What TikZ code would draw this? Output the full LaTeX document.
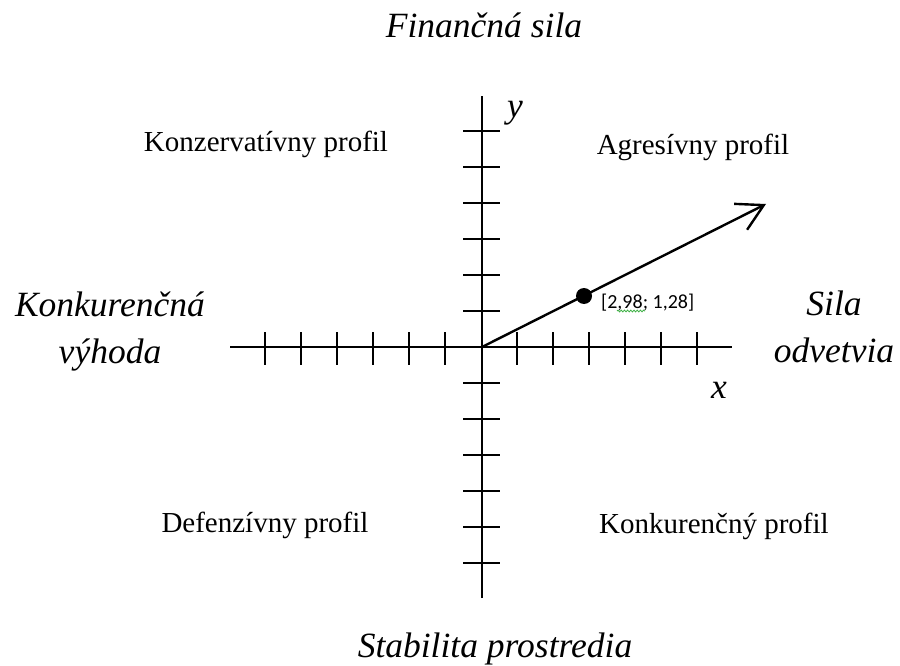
\documentclass[tikz,border=0pt]{standalone}
\usepackage{fontspec}
\setmainfont{Liberation Serif}
\newfontfamily\labelfont{Carlito}
\usepackage{xcolor}
\usepackage{tikz}
\usetikzlibrary{positioning,arrows.meta,decorations.pathmorphing}
\definecolor{AxisBlack}{HTML}{000000}
\definecolor{SpellGreen}{HTML}{3CB043}

\begin{document}
\begin{tikzpicture}[
      x=1pt, y=-1pt,
      axisline/.style = {draw=AxisBlack, line width=2.4pt},
      tickmark/.style = {draw=AxisBlack, line width=2.2pt},
      profil/.style = {anchor=base, inner sep=0pt,
        font=\fontsize{29}{34}\selectfont},
      sidetitle/.style = {anchor=base, inner sep=0pt, align=center,
        font=\fontsize{35.5}{46.5}\selectfont\itshape},
      vector/.style = {line width=2.4pt, draw=AxisBlack,
        -{Straight Barb[length=26pt, width=29pt, line width=2.4pt]}}
    ]
    \useasboundingbox (0,0) rectangle (900,666);
    % axes
    \coordinate (O) at (482,347);
    \coordinate (xmin) at (230,347);
    \coordinate (xmax) at (732,347);
    \coordinate (ymin) at (482,598);
    \coordinate (ymax) at (482,96);
    \draw [axisline] (xmin) -- (xmax);
    \draw [axisline] (ymin) -- (ymax);
    \foreach \k in {1,...,6} {
      \draw [tickmark] (481-36*\k,332) -- (481-36*\k,365);
      \draw [tickmark] (481+36*\k,332) -- (481+36*\k,365);
      \draw [tickmark] (463,347-36*\k) -- (500,347-36*\k);
      \draw [tickmark] (463,347+36*\k) -- (500,347+36*\k);
    }
    \node (ylab) [sidetitle, anchor=base west] at (507,118) {y};
    \node (xlab) [sidetitle, anchor=base west] at (711,398) {x};
    % vector and point
    \coordinate (tip) at (766,204);
    \draw [vector] (O) -- (tip);
    \node (pt) [circle, fill=AxisBlack, inner sep=0pt, minimum size=16pt]
      at (584,296) {};
    \node (ptlabel) [anchor=base west, inner sep=0pt,
      font=\labelfont\fontsize{20}{24}\selectfont] at (601,308) {[2,98; 1,28]};
    \draw [SpellGreen, line width=0.8pt, decorate,
      decoration={snake, amplitude=0.9pt, segment length=3.2pt}]
      (617,311) -- (645,311);
    % quadrant profiles
    \node (konz) [profil] at (266,152) {Konzervatívny profil};
    \node (agr) [profil] at (693,155) {Agresívny profil};
    \node (def) [profil] at (265,532) {Defenzívny profil};
    \node (konk) [profil] at (714,533) {Konkurenčný profil};
    % axis titles
    \node (fin) [sidetitle] at (484,38) {Finančná sila};
    \node (kv) [sidetitle] at (110,363) {Konkurenčná\\výhoda};
    \node (so) [sidetitle] at (834,362) {Sila\\odvetvia};
    \node (stab) [sidetitle] at (495,657) {Stabilita prostredia};
  \end{tikzpicture}
\end{document}
